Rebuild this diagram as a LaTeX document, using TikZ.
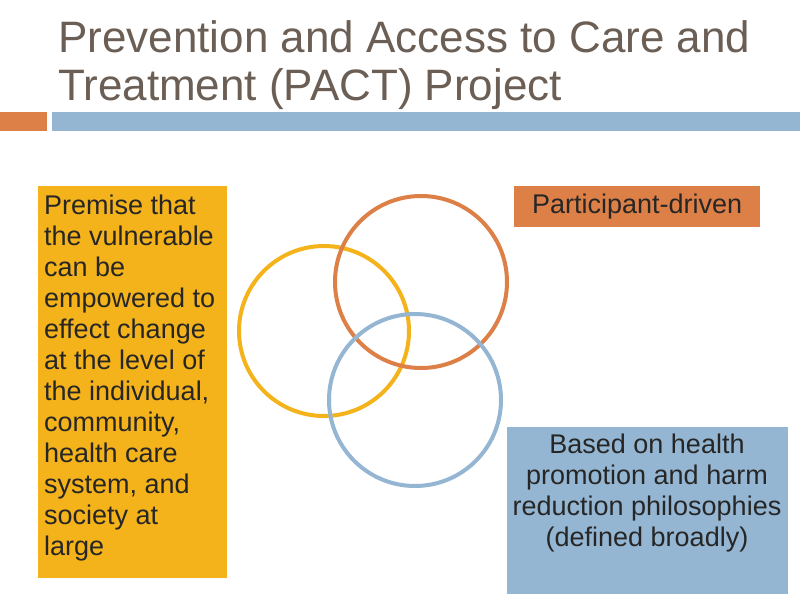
\documentclass[tikz,border=0pt]{standalone}
\usepackage{fontspec}
\setmainfont{Liberation Sans}
\definecolor{ttl}{HTML}{6B5E55}
\definecolor{myor}{HTML}{DD8047}
\definecolor{mybl}{HTML}{94B6D2}
\definecolor{myye}{HTML}{F4B21B}
\begin{document}
\begin{tikzpicture}[x=1pt,y=-1pt,
 txt/.style={font=\fontsize{27}{31}\selectfont,text=black!85}]
\useasboundingbox[fill=white] (0,0) rectangle (800,600);
\node[anchor=north west,align=left,text=ttl,font=\fontsize{44}{48}\selectfont,inner sep=0] (title) at (58,20) {Prevention and Access to Care and\\Treatment (PACT) Project};
\fill[myor] (0,112) rectangle (47,131);
\fill[mybl] (52,112) rectangle (800,131);
\fill[myye] (38,186) rectangle (227,578);
\node[txt,anchor=north west,align=left,inner sep=0] (prem) at (44,195) {Premise that\\the vulnerable\\can be\\empowered to\\effect change\\at the level of\\the individual,\\community,\\health care\\system, and\\society at\\large};
\node[txt,fill=myor,minimum width=246,minimum height=41,anchor=north west,inner sep=0] (part) at (514,186) {Participant-driven};
\fill[mybl] (507,427) rectangle (788,594);
\node[txt,align=center,anchor=north,inner sep=0] (based) at (647,434) {Based on health\\promotion and harm\\reduction philosophies\\(defined broadly)};
\draw[myye,line width=4] (324,331) circle[radius=85];
\draw[myor,line width=4] (421,282) circle[radius=86];
\draw[mybl,line width=4] (415,400) circle[radius=86];
\end{tikzpicture}
\end{document}
